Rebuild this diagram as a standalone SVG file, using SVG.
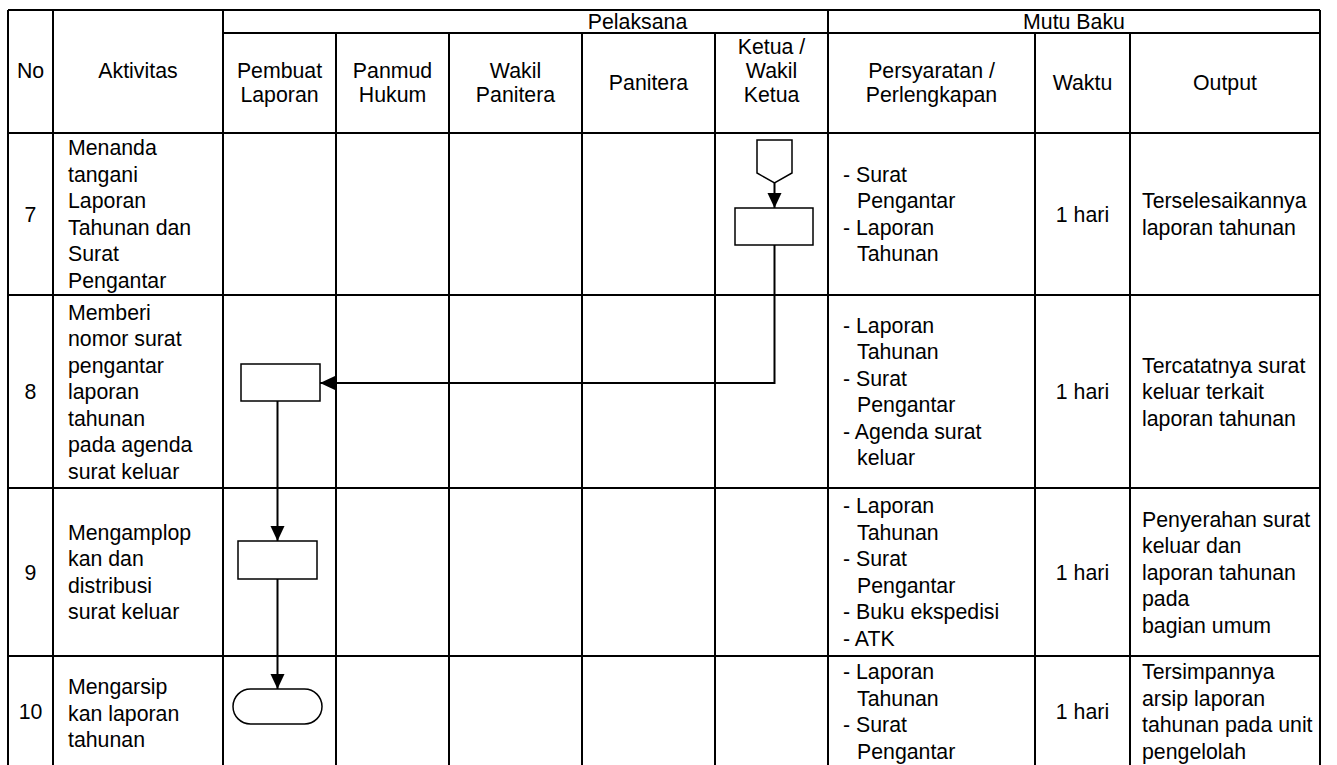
<svg xmlns="http://www.w3.org/2000/svg" width="1337" height="765" viewBox="0 0 1337 765">
<style>
.t{font-family:"Liberation Sans",Arial,sans-serif;font-size:21.3px;fill:#000}
.c{text-anchor:middle}
.g{stroke:#000;stroke-width:2;fill:none}
.s{stroke:#000;stroke-width:1.5;fill:#fff}
.k{stroke:#000;stroke-width:2;fill:none}
</style>
<defs>
<marker id="ah" markerUnits="userSpaceOnUse" markerWidth="16" markerHeight="16" refX="15" refY="7" orient="auto">
<path d="M0,0 L15,7 L0,14 Z" fill="#000"/>
</marker>
</defs>
<rect width="1337" height="765" fill="#fff"/>
<g id="grid" class="g">
<path d="M8,10 H1320 M223,33 H1320 M8,133 H1320 M8,295 H1320 M8,488 H1320 M8,656 H1320"/>
<path d="M8,10 V765 M53,10 V765 M223,10 V765 M828,10 V765 M1320,10 V765"/>
<path d="M336,33 V765 M449,33 V765 M582,33 V765 M715,33 V765 M1035,33 V765 M1130,33 V765"/>
</g>
<g id="header">
<text class="t c" x="637.5" y="29">Pelaksana</text>
<text class="t c" x="1074" y="29">Mutu Baku</text>
<text class="t c" x="30.5" y="78">No</text>
<text class="t c" x="138" y="78">Aktivitas</text>
<text class="t c" x="279.5" y="78">Pembuat</text>
<text class="t c" x="279.5" y="102">Laporan</text>
<text class="t c" x="392.5" y="78">Panmud</text>
<text class="t c" x="392.5" y="102">Hukum</text>
<text class="t c" x="515.5" y="78">Wakil</text>
<text class="t c" x="515.5" y="102">Panitera</text>
<text class="t c" x="648.5" y="90">Panitera</text>
<text class="t c" x="771.5" y="54">Ketua /</text>
<text class="t c" x="771.5" y="78">Wakil</text>
<text class="t c" x="771.5" y="102">Ketua</text>
<text class="t c" x="931.5" y="78">Persyaratan /</text>
<text class="t c" x="931.5" y="102">Perlengkapan</text>
<text class="t c" x="1082.5" y="90">Waktu</text>
<text class="t c" x="1225" y="90">Output</text>
</g>
<g id="row7">
<text class="t c" x="30.5" y="221.5">7</text>
<text class="t" x="68" y="155.3">Menanda</text>
<text class="t" x="68" y="181.8">tangani</text>
<text class="t" x="68" y="208.3">Laporan</text>
<text class="t" x="68" y="234.8">Tahunan dan</text>
<text class="t" x="68" y="261.3">Surat</text>
<text class="t" x="68" y="287.8">Pengantar</text>
<text class="t" x="843" y="181.8">- Surat</text>
<text class="t" x="857" y="208.3">Pengantar</text>
<text class="t" x="843" y="234.8">- Laporan</text>
<text class="t" x="857" y="261.3">Tahunan</text>
<text class="t c" x="1082.5" y="221.5">1 hari</text>
<text class="t" x="1142" y="208.3">Terselesaikannya</text>
<text class="t" x="1142" y="234.8">laporan tahunan</text>
</g>
<g id="row8">
<text class="t c" x="30.5" y="399">8</text>
<text class="t" x="68" y="319.5">Memberi</text>
<text class="t" x="68" y="346">nomor surat</text>
<text class="t" x="68" y="372.5">pengantar</text>
<text class="t" x="68" y="399">laporan</text>
<text class="t" x="68" y="425.5">tahunan</text>
<text class="t" x="68" y="452">pada agenda</text>
<text class="t" x="68" y="478.5">surat keluar</text>
<text class="t" x="843" y="332.8">- Laporan</text>
<text class="t" x="857" y="359.3">Tahunan</text>
<text class="t" x="843" y="385.8">- Surat</text>
<text class="t" x="857" y="412.3">Pengantar</text>
<text class="t" x="843" y="438.8">- Agenda surat</text>
<text class="t" x="857" y="465.3">keluar</text>
<text class="t c" x="1082.5" y="399">1 hari</text>
<text class="t" x="1142" y="372.5">Tercatatnya surat</text>
<text class="t" x="1142" y="399">keluar terkait</text>
<text class="t" x="1142" y="425.5">laporan tahunan</text>
</g>
<g id="row9">
<text class="t c" x="30.5" y="579.5">9</text>
<text class="t" x="68" y="539.8">Mengamplop</text>
<text class="t" x="68" y="566.3">kan dan</text>
<text class="t" x="68" y="592.8">distribusi</text>
<text class="t" x="68" y="619.3">surat keluar</text>
<text class="t" x="843" y="513.3">- Laporan</text>
<text class="t" x="857" y="539.8">Tahunan</text>
<text class="t" x="843" y="566.3">- Surat</text>
<text class="t" x="857" y="592.8">Pengantar</text>
<text class="t" x="843" y="619.3">- Buku ekspedisi</text>
<text class="t" x="843" y="645.8">- ATK</text>
<text class="t c" x="1082.5" y="579.5">1 hari</text>
<text class="t" x="1142" y="526.5">Penyerahan surat</text>
<text class="t" x="1142" y="553">keluar dan</text>
<text class="t" x="1142" y="579.5">laporan tahunan</text>
<text class="t" x="1142" y="606">pada</text>
<text class="t" x="1142" y="632.5">bagian umum</text>
</g>
<g id="row10">
<text class="t c" x="30.5" y="718.5">10</text>
<text class="t" x="68" y="694">Mengarsip</text>
<text class="t" x="68" y="720.5">kan laporan</text>
<text class="t" x="68" y="747">tahunan</text>
<text class="t" x="843" y="679">- Laporan</text>
<text class="t" x="857" y="705.5">Tahunan</text>
<text class="t" x="843" y="732">- Surat</text>
<text class="t" x="857" y="758.5">Pengantar</text>
<text class="t c" x="1082.5" y="718.5">1 hari</text>
<text class="t" x="1142" y="679">Tersimpannya</text>
<text class="t" x="1142" y="705.5">arsip laporan</text>
<text class="t" x="1142" y="732">tahunan pada unit</text>
<text class="t" x="1142" y="758.5">pengelolah</text>
</g>
<g id="connectors" class="k">
<path d="M774.5,183 V208" marker-end="url(#ah)"/>
<path d="M774.5,245 V383 H320" marker-end="url(#ah)"/>
<path d="M277.5,401 V541" marker-end="url(#ah)"/>
<path d="M277.5,579 V689" marker-end="url(#ah)"/>
</g>
<g id="n7-offpage"><path class="s" d="M757,140 H792 V173 L774.5,183 L757,173 Z"/></g>
<g id="n7-process"><rect class="s" x="735" y="208" width="78" height="37"/></g>
<g id="n8-process"><rect class="s" x="241" y="364" width="79" height="37"/></g>
<g id="n9-process"><rect class="s" x="238" y="541" width="79" height="38"/></g>
<g id="n10-end"><rect class="s" x="233" y="689" width="89" height="35" rx="17.5"/></g>
</svg>
